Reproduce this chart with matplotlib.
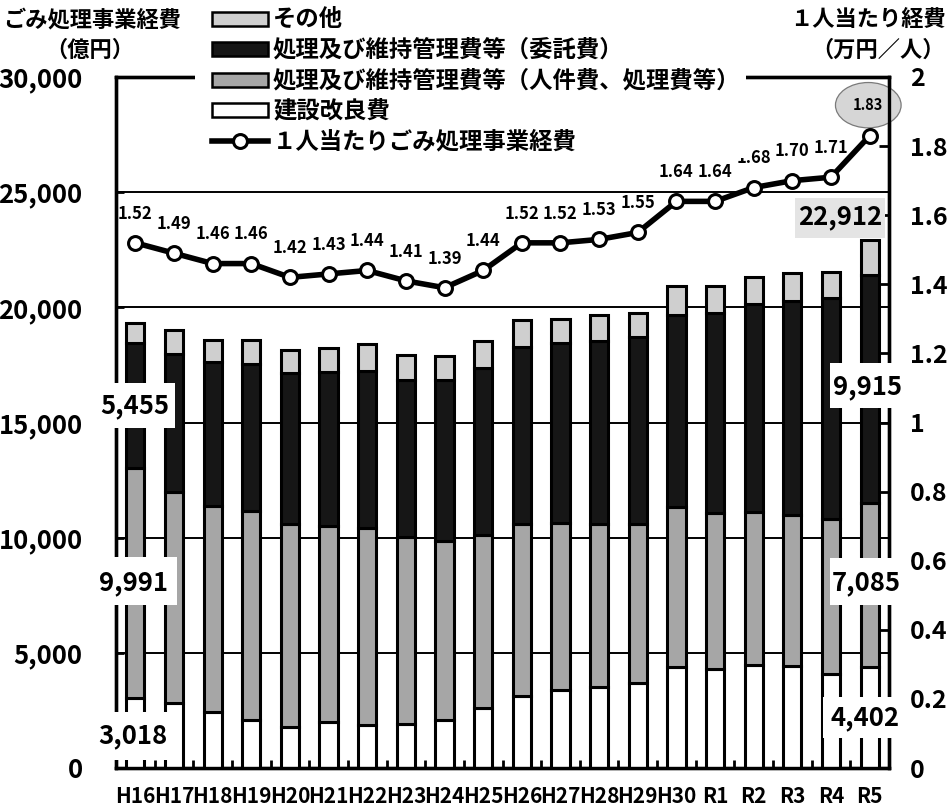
import numpy as np
import matplotlib
matplotlib.use("Agg")
import matplotlib.pyplot as plt
from matplotlib.patches import Rectangle
from matplotlib.lines import Line2D
from matplotlib.ticker import FuncFormatter

plt.rcParams['font.family'] = ['Noto Sans CJK JP', 'DejaVu Sans']
plt.rcParams['font.weight'] = 'bold'

# ---- data (億円 / 万円per person) ----
years = ["H16", "H17", "H18", "H19", "H20", "H21", "H22", "H23", "H24", "H25",
         "H26", "H27", "H28", "H29", "H30", "R1", "R2", "R3", "R4", "R5"]
construction = [3018, 2806, 2443, 2082, 1792, 2010, 1865, 1908, 2082, 2589,
                3123, 3383, 3500, 3673, 4367, 4294, 4476, 4415, 4068, 4402]
personnel = [9991, 9177, 8920, 9078, 8820, 8485, 8573, 8125, 7777, 7546,
             7489, 7272, 7082, 6939, 6967, 6770, 6635, 6575, 6740, 7085]
consignment = [5455, 6001, 6259, 6390, 6533, 6695, 6781, 6823, 6968, 7242,
               7661, 7807, 7952, 8095, 8312, 8669, 9035, 9277, 9611, 9915]
other = [850, 1012, 971, 1012, 1013, 1055, 1199, 1085, 1070, 1142,
         1156, 1039, 1112, 1054, 1269, 1173, 1188, 1218, 1097, 1510]
per_capita = [1.52, 1.49, 1.46, 1.46, 1.42, 1.43, 1.44, 1.41, 1.39, 1.44,
              1.52, 1.52, 1.53, 1.55, 1.64, 1.64, 1.68, 1.70, 1.71, 1.83]

legend_labels = ["その他", "処理及び維持管理費等（委託費）",
                 "処理及び維持管理費等（人件費、処理費等）", "建設改良費",
                 "１人当たりごみ処理事業経費"]

C_OTHER = "#cfcfcf"
C_CONSIGN = "#161616"
C_PERSON = "#a6a6a6"
C_CONSTR = "white"

W, H = 951, 808
fig = plt.figure(figsize=(W / 100, H / 100), dpi=100)


def fx(px):
    return px / W


def fy(py):
    return 1 - py / H


L, R, T, B = 116, 889, 77, 768
ax = fig.add_axes([fx(L), fy(B), fx(R) - fx(L), fy(T) - fy(B)])
ax.set_zorder(1)

x = np.arange(len(years))
bw = 0.47
bottom = np.zeros(len(years))
for vals, col in [(construction, C_CONSTR), (personnel, C_PERSON),
                  (consignment, C_CONSIGN), (other, C_OTHER)]:
    ax.bar(x, vals, bw, bottom=bottom, color=col, edgecolor="black",
           linewidth=2.2, zorder=3)
    bottom += np.array(vals)

ax.set_xlim(-0.5, len(years) - 0.5)
ax.set_ylim(0, 30000)
ax.set_yticks(np.arange(0, 30001, 5000))
ax.yaxis.set_major_formatter(FuncFormatter(lambda v, p: f"{int(v):,}"))
ax.yaxis.grid(True, color="black", linewidth=1.4)
ax.set_axisbelow(True)
ax.set_xticks(x)
ax.set_xticklabels(years)
ax.set_xticks(np.arange(0.5, len(years) - 0.5, 1), minor=True)
ax.tick_params(axis="x", which="major", length=0, pad=13, labelsize=15)
ax.tick_params(axis="x", which="minor", direction="in", length=6, width=2)
ax.tick_params(axis="y", direction="in", length=6, width=2, pad=24,
               labelsize=18.5)
for s in ax.spines.values():
    s.set_linewidth(2.4)

ax2 = ax.twinx()
ax2.set_ylim(0, 2)
ax2.set_yticks(np.arange(0, 2.01, 0.2))
ax2.yaxis.set_major_formatter(FuncFormatter(lambda v, p: f"{round(v, 1):g}"))
ax2.tick_params(axis="y", direction="in", length=7, width=2, pad=15,
                labelsize=18)
for s in ax2.spines.values():
    s.set_linewidth(2.4)
ax2.plot(x, per_capita, color="black", linewidth=4, marker="o",
         markersize=10, markerfacecolor="white", markeredgecolor="black",
         markeredgewidth=2.2, zorder=5)
for xi, v in zip(x[:-1], per_capita[:-1]):
    ax2.annotate(f"{v:.2f}", (xi, v), xytext=(0, 21),
                 textcoords="offset points", ha="center", va="center",
                 fontsize=12, fontweight="bold", zorder=6)
# latest value is highlighted inside an ellipse
ax2.annotate(f"{per_capita[-1]:.2f}", (x[-1], per_capita[-1]),
             xytext=(-1, 22), textcoords="offset points", ha="center",
             va="center", fontsize=10.5, fontweight="bold", zorder=2,
             bbox=dict(boxstyle="ellipse,pad=0.55", facecolor="#d6d6d6",
                       edgecolor="#7a7a7a", linewidth=0.9))

# ---- overlay in pixel coordinates: titles, legend, callouts ----
ov = fig.add_axes([0, 0, 1, 1], zorder=10)
ov.set_xlim(0, W)
ov.set_ylim(H, 0)
ov.axis("off")
ov.patch.set_visible(False)

ov.text(181, 20, "ごみ処理事業経費", ha="right", va="center", fontsize=16)
ov.text(90, 50, "（億円）", ha="center", va="center", fontsize=16)
ov.text(946, 20, "１人当たり経費", ha="right", va="center", fontsize=16)
ov.text(878, 50, "（万円／人）", ha="center", va="center", fontsize=16)

# legend block (white background interrupts the top frame)
ov.add_patch(Rectangle((195, 0), 746 - 195, 158, facecolor="white",
                       edgecolor="none", zorder=1))
rows = [19, 49, 80, 110, 141]
for yy, col in zip(rows[:4], [C_OTHER, C_CONSIGN, C_PERSON, C_CONSTR]):
    ov.add_patch(Rectangle((212, yy - 7), 56, 14, facecolor=col,
                           edgecolor="black", linewidth=1.8, zorder=2))
ov.add_line(Line2D([212, 268], [rows[4], rows[4]], color="black",
                   linewidth=4, zorder=2))
ov.plot([240], [rows[4]], marker="o", markersize=10, markerfacecolor="white",
        markeredgecolor="black", markeredgewidth=2.2, zorder=3)
for yy, lab in zip(rows, legend_labels):
    ov.text(273, yy, lab, ha="left", va="center", fontsize=16.8, zorder=3)

# value callouts
callouts = [
    ((98, 383, 175, 428), (135, 406), f"{consignment[0]:,}", "white"),
    ((97, 557, 177, 605), (133, 583), f"{personnel[0]:,}", "white"),
    ((97, 712, 170, 760), (133, 736), f"{construction[0]:,}", "white"),
    ((830, 363, 903, 408), (867, 387), f"{consignment[-1]:,}", "white"),
    ((830, 558, 903, 605), (866, 583), f"{personnel[-1]:,}", "white"),
    ((823, 697, 903, 738), (865, 718), f"{construction[-1]:,}", "white"),
]
total_last = construction[-1] + personnel[-1] + consignment[-1] + other[-1]
callouts.append(((795, 198, 885, 238), (840, 217), f"{total_last:,}",
                 "#e4e4e4"))
for (x0, y0, x1, y1), (tx, ty), txt, fc in callouts:
    ov.add_patch(Rectangle((x0, y0), x1 - x0, y1 - y0, facecolor=fc,
                           edgecolor="none", zorder=4))
    ov.text(tx, ty, txt, ha="center", va="center", fontsize=18.5, zorder=5)

fig.savefig("out.png", dpi=100)
